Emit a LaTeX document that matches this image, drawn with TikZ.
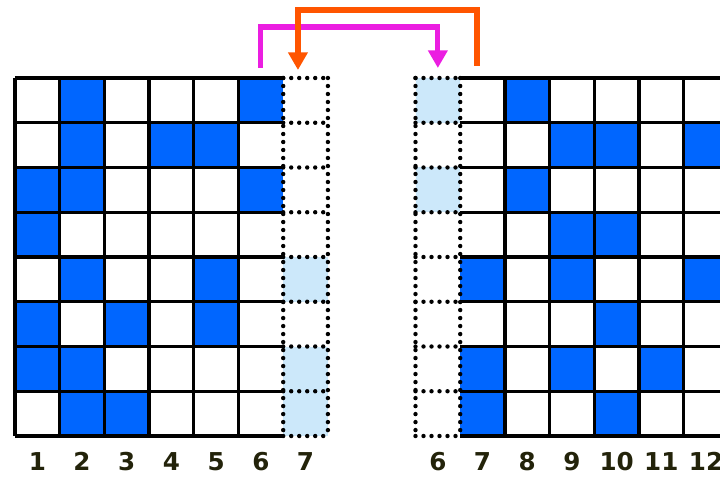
\documentclass[tikz,border=0pt]{standalone}
\usepackage{fontspec}
\newfontfamily\numfont{DejaVu Sans}
\usepackage{tikz}
\usetikzlibrary{positioning}
\usetikzlibrary{arrows.meta}

\definecolor{cellblue}{RGB}{0,102,255}
\definecolor{paleblue}{RGB}{204,232,250}
\definecolor{linkpink}{RGB}{235,30,225}
\definecolor{linkorange}{RGB}{255,85,0}
\definecolor{numcol}{RGB}{35,35,10}

\begin{document}
\begin{tikzpicture}[
    x=0.025cm, y=-0.025cm,
    cell/.style={
      rectangle,
      minimum width=1.1175cm,
      minimum height=1.119cm,
      inner sep=0pt,
      outer sep=0pt,
      fill=white
    },
    gridline/.style={
      line width=0.08cm,
      draw=black
    },
    dotline/.style={
      line width=0.11cm,
      draw=black,
      dash pattern=on 0pt off 0.2cm,
      line cap=round
    },
    link/.style={
      line width=0.13cm,
      -{Triangle[width=0.47cm, length=0.44cm]}
    },
    colnum/.style={
      font=\numfont\bfseries\fontsize{17.5}{18}\selectfont,
      text=numcol,
      inner sep=0pt
    }
  ]
  \useasboundingbox (0,0) rectangle (720,476);
  \clip (0,0) rectangle (720,476);

  % left block, columns 1-6 and the moved column 7
  \begin{scope}
    \foreach \r in {1,...,8}
      \foreach \c in {1,...,7}
        \node[cell] (L-\r-\c) at ({15+44.7*(\c-0.5)},{78+44.75*(\r-0.5)}) {};
    \foreach \r/\c in {1/2,1/6,2/2,2/4,2/5,3/1,3/2,3/6,4/1,5/2,5/5,6/1,6/3,6/5,7/1,7/2,8/2,8/3}
      \fill[cellblue] (L-\r-\c.north west) rectangle (L-\r-\c.south east);
    \foreach \r in {5,7,8}
      \fill[paleblue] (L-\r-7.north west) rectangle (L-\r-7.south east);
    \foreach \r in {1,...,8}
      \draw[gridline] (L-\r-1.north west) -- (L-\r-6.north east);
    \draw[gridline] (L-8-1.south west) -- (L-8-6.south east);
    \foreach \c in {1,...,6}
      \draw[gridline] (L-1-\c.north west) -- (L-8-\c.south west);
    \foreach \r in {1,...,8}
      \draw[dotline] (L-\r-7.north west) -- (L-\r-7.north east);
    \draw[dotline] (L-8-7.south west) -- (L-8-7.south east);
    \draw[dotline] (L-1-7.north west) -- (L-8-7.south west);
    \draw[dotline] (L-1-7.north east) -- (L-8-7.south east);
    \foreach \c in {1,...,7}
      \node[colnum, below=0.4cm of L-8-\c] (numL-\c) {\c};
  \end{scope}

  % right block, the moved column 6 and columns 7-12
  \begin{scope}
    \foreach \r in {1,...,8}
      \foreach \c in {6,...,12}
        \node[cell] (R-\r-\c) at ({415.5+44.7*(\c-5.5)},{78+44.75*(\r-0.5)}) {};
    \foreach \r/\c in {1/8,2/9,2/10,2/12,3/8,4/9,4/10,5/7,5/9,5/12,6/10,7/7,7/9,7/11,8/7,8/10}
      \fill[cellblue] (R-\r-\c.north west) rectangle (R-\r-\c.south east);
    \foreach \r in {1,3}
      \fill[paleblue] (R-\r-6.north west) rectangle (R-\r-6.south east);
    \foreach \r in {1,...,8}
      \draw[gridline] (R-\r-7.north west) -- (R-\r-12.north east);
    \draw[gridline] (R-8-7.south west) -- (R-8-12.south east);
    \foreach \c in {8,...,12}
      \draw[gridline] (R-1-\c.north west) -- (R-8-\c.south west);
    \draw[gridline] (R-1-12.north east) -- (R-8-12.south east);
    \foreach \r in {1,...,8}
      \draw[dotline] (R-\r-6.north west) -- (R-\r-6.north east);
    \draw[dotline] (R-8-6.south west) -- (R-8-6.south east);
    \draw[dotline] (R-1-6.north west) -- (R-8-6.south west);
    \draw[dotline] (R-1-6.north east) -- (R-8-6.south east);
    \foreach \c in {6,...,12}
      \node[colnum, below=0.4cm of R-8-\c] (numR-\c) {\c};
  \end{scope}

  % the two swaps
  \coordinate (pinkrail) at (0,27);
  \coordinate (orangerail) at (0,10);
  \coordinate (pstart) at ([yshift=0.25cm]L-1-6.north);
  \coordinate (pend) at ([yshift=0.25cm]R-1-6.north);
  \coordinate (ostart) at ([xshift=-0.14cm, yshift=0.3cm]R-1-7.north);
  \coordinate (oend) at ([xshift=-0.19cm, yshift=0.2cm]L-1-7.north);
  \draw[link, linkpink] (pstart) -- (pstart |- pinkrail) -| (pend);
  \draw[link, linkorange] (ostart) -- (ostart |- orangerail) -| (oend);
\end{tikzpicture}
\end{document}
